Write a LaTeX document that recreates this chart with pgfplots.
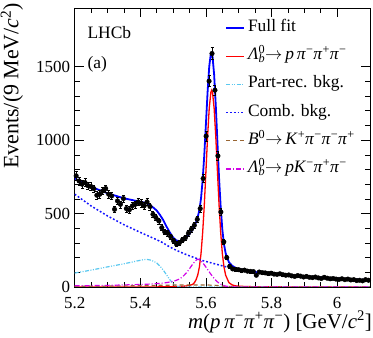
\documentclass[border=0pt]{standalone}
\usepackage{fontspec}
\setmainfont{Liberation Serif}
\usepackage{pgfplots}
\pgfplotsset{compat=1.18}
\usepackage{pgfplotstable}

\newcommand{\lb}{\textit{Λ}\rlap{\textsuperscript{0}}\textsubscript{\textit{b}}}
\newcommand{\mpi}{\textit{π}\textsuperscript{−}}
\newcommand{\ppi}{\textit{π}\textsuperscript{+}}

\definecolor{cfull}{RGB}{0,0,255}
\definecolor{csig}{RGB}{255,0,0}
\definecolor{cpart}{RGB}{90,200,240}
\definecolor{ccomb}{RGB}{20,20,255}
\definecolor{cbz}{RGB}{153,102,51}
\definecolor{cpk}{RGB}{210,0,230}

\pgfplotstableread{
m N
5.2045 757
5.2135 722
5.2225 700
5.2315 711
5.2405 690
5.2495 684
5.2585 670
5.2675 625
5.2765 632
5.2855 654
5.2945 670
5.3035 632
5.3125 620
5.3215 529
5.3305 586
5.3395 563
5.3485 602
5.3575 534
5.3665 525
5.3755 552
5.3845 563
5.3935 579
5.4025 570
5.4115 552
5.4205 579
5.4295 548
5.4385 495
5.4475 473
5.4565 450
5.4655 404
5.4745 375
5.4835 366
5.4925 343
5.5015 314
5.5105 291
5.5195 302
5.5285 320
5.5375 336
5.5465 366
5.5555 393
5.5645 420
5.5735 461
5.5825 534
5.5915 739
5.6005 1027
5.6095 1402
5.6185 1590
5.6275 1340
5.6365 893
5.6455 511
5.6545 307
5.6635 200
5.6725 140
5.6815 123
5.6905 120
5.6995 118
5.7085 112
5.7175 115
5.7265 108
5.7355 106
5.7445 105
5.7535 80
5.7625 102
5.7715 98
5.7805 96
5.7895 92
5.7985 94
5.8075 88
5.8165 86
5.8255 90
5.8345 84
5.8435 80
5.8525 82
5.8615 76
5.8705 72
5.8795 78
5.8885 74
5.8975 68
5.9065 72
5.9155 66
5.9245 64
5.9335 68
5.9425 62
5.9515 58
5.9605 66
5.9695 60
5.9785 56
5.9875 58
5.9965 54
6.0055 52
6.0145 56
6.0235 50
6.0325 54
6.0415 48
6.0505 50
6.0595 44
6.0685 46
6.0775 42
6.0865 50
6.0955 46
}\data

\pgfplotstableread{
m comb part bz pk sig full
5.20 632 95 4 8 0.5 739.5
5.25 552 115 5 9.5 0.5 682
5.30 484 137 6 11 0.5 638.5
5.35 424 158 7.5 14 0.5 604
5.40 372 182 9 17 0.5 580.5
5.41 362 186 9.5 18 0.5 576
5.42 352 188 10 19 0.5 569.5
5.43 342 184 10 20 0.5 556.5
5.44 332 175 10.5 22 0.5 540
5.45 322 164 11 23 0.5 520.5
5.46 311 142 11.5 25 1 490.5
5.47 300 115 12 27 1 455
5.48 285 82 12 30 1.5 410.5
5.49 273 50 12.5 34 2 371.5
5.50 261 22 13 38 2.5 336.5
5.51 250 5 13 46 3 317
5.52 240 0 13.5 55 3.5 312
5.53 230 0 13.5 72 5 320.5
5.54 221 0 14 95 7 337
5.55 212 0 14 125 11 362
5.56 204 0 14 157 18 393
5.565 200 0 14 170 30 414
5.57 196 0 14 182 50 442
5.575 192 0 14 190 81 477
5.58 188 0 14 186 136 524
5.585 184 0 14 178 227 603
5.59 180 0 14 165 370 729
5.595 177 0 14 151 558 900
5.60 174 0 14 135 789 1112
5.605 171 0 13.5 119 1023 1326.5
5.61 168 0 13 103 1216 1500
5.615 165 0 12.5 87 1326 1590.5
5.6175 164 0 12 80 1340 1596
5.62 162 0 12 72 1326 1572
5.625 159 0 11.5 59 1216 1445.5
5.63 156 0 11 46 1023 1236
5.635 153 0 10 35 789 987
5.64 150 0 8 26 558 742
5.645 147 0 7 19 370 543
5.65 144 0 6.5 13 227 390.5
5.655 141 0 5.5 9 136 291.5
5.66 138 0 5 6 81 230
5.67 132 0 4 3 30 169
5.68 126 0 3 1.5 14 144.5
5.69 120 0 2 0.7 8 130.7
5.70 115 0 1.5 0.3 5 121.8
5.75 100 0 0.5 0 1.5 102
5.80 89 0 0 0 1 90
5.85 80 0 0 0 0.5 80.5
5.90 72 0 0 0 0.5 72.5
5.95 65 0 0 0 0.5 65.5
6.00 58 0 0 0 0.5 58.5
6.05 52 0 0 0 0.5 52.5
6.10 46 0 0 0 0.5 46.5
}\fit

\begin{document}
\begin{tikzpicture}
\useasboundingbox (-74.7bp,-51bp) rectangle (298.3bp,287bp);
\begin{axis}[
  at={(0,0)}, anchor=south west,
  scale only axis, width=295.3bp, height=279bp,
  xmin=5.2, xmax=6.1, ymin=0, ymax=1900,
  xtick={5.2,5.4,5.6,5.8,6.0}, xticklabels={5.2,5.4,5.6,5.8,6},
  ytick={0,500,1000,1500},
  minor x tick num=3, minor y tick num=4,
  tick align=inside, tick pos=both,
  major tick length=9bp, minor tick length=5bp,
  tick style={black, line width=0.6bp},
  axis line style={black, line width=0.8bp},
  /pgf/number format/assume math mode=true,
  /pgf/number format/1000 sep={},
  ticklabel style={font=\fontsize{17}{17}\selectfont},
  xticklabel style={anchor=north, inner sep=0pt, yshift=-10bp},
  yticklabel style={anchor=east, inner sep=0pt, xshift=-4.5bp},
  xlabel={\textit{m}(\textit{p}\,\mpi\ppi\mpi) [GeV/\textit{c}\textsuperscript{2}]},
  xlabel style={at={(axis description cs:1.007,-0.147)}, anchor=base east, inner sep=0pt, font=\fontsize{21}{21}\selectfont},
  ylabel={Events/(9 MeV/\textit{c}\textsuperscript{2})},
  ylabel style={at={(axis description cs:-0.174,1.019)}, anchor=south east, inner sep=0pt, font=\fontsize{22}{22}\selectfont},
  legend cell align=left,
  legend image code/.code={\path[draw=none,fill=none] (0bp,-5bp) rectangle (18bp,12bp); \draw[#1] (0bp,0bp) -- (18bp,0bp);},
  legend style={draw=none, fill=none, at={(axis description cs:0.509,0.972)}, anchor=north west,
    inner sep=0pt, row sep=7.7bp, column sep=3bp,
    font=\fontsize{17.5}{18}\selectfont,
    nodes={inner sep=0pt, text height=12bp, text depth=5bp}},
]
\addplot[cfull, line width=1.8bp] table[x=m, y=full] {\fit};
\addlegendentry{Full fit}
\addplot[csig, line width=1.3bp] table[x=m, y=sig] {\fit};
\addlegendentry{\lb$\rightarrow$\,\textit{p}\,\mpi\ppi\mpi}
\addplot[cpart, line width=1.2bp, dash pattern=on 4bp off 1.5bp on 1bp off 1.5bp on 1bp off 1.5bp] table[x=m, y=part] {\fit};
\addlegendentry{Part-rec. bkg.}
\addplot[ccomb, line width=1.5bp, dash pattern=on 1.8bp off 2bp] table[x=m, y=comb] {\fit};
\addlegendentry{Comb. bkg.}
\addplot[cbz, line width=1.2bp, dash pattern=on 4bp off 3bp] table[x=m, y=bz] {\fit};
\addlegendentry{\textit{B}\textsuperscript{0}$\rightarrow$\,\textit{K}\textsuperscript{+}\mpi\mpi\ppi}
\addplot[cpk, line width=1.2bp, dash pattern=on 5bp off 2bp on 1bp off 2bp] table[x=m, y=pk] {\fit};
\addlegendentry{\lb$\rightarrow$\,\textit{pK}\textsuperscript{−}\ppi\mpi}
\addplot[only marks, mark=*, mark size=2.3bp, black,
  error bars/.cd, y dir=both, y explicit,
  error bar style={black, line width=0.6bp},
  error mark options={rotate=90, mark size=1.5bp, line width=0.6bp}]
  table[x=m, y=N, y error expr={sqrt(\thisrow{N})}] {\data};
\node[anchor=north west, inner sep=0pt, font=\fontsize{17.5}{18}\selectfont] at (axis description cs:0.043,0.933) {LHCb};
\node[anchor=north west, inner sep=0pt, font=\fontsize{17.5}{18}\selectfont] at (axis description cs:0.043,0.828) {(a)};
\end{axis}
\end{tikzpicture}
\end{document}
